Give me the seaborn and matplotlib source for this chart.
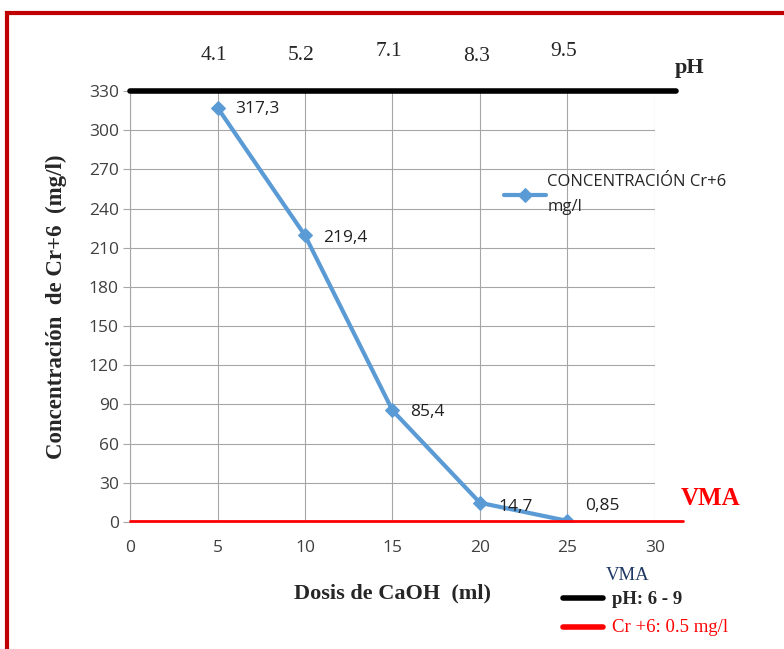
import matplotlib
matplotlib.use("Agg")
import matplotlib.pyplot as plt
import seaborn as sns
import pandas as pd
from matplotlib.patches import Rectangle

# Data
dosis = [5, 10, 15, 20, 25]
concentracion = [317.3, 219.4, 85.4, 14.7, 0.85]
etiquetas = ["317,3", "219,4", "85,4", "14,7", "0,85"]
ph_valores = ["4.1", "5.2", "7.1", "8.3", "9.5"]
y_ticks = list(range(0, 331, 30))
x_ticks = list(range(0, 31, 5))
vma_ph = 330
vma_cr = 0.5

df = pd.DataFrame({"Dosis": dosis, "Conc": concentracion})

sns.set_style("white")
plt.rcParams["font.family"] = ["DejaVu Sans"]

fig = plt.figure(figsize=(7.84, 6.49), dpi=100)
ax = fig.add_axes([130 / 784, 1 - 522 / 649, 525 / 784, 431 / 649])

sans = "Open Sans"
serif = "Liberation Serif"

sns.lineplot(data=df, x="Dosis", y="Conc", ax=ax, color="#5B9BD5", linewidth=3,
             marker="D", markersize=7, markeredgecolor="#5B9BD5",
             label="CONCENTRACIÓN Cr+6\nmg/l", zorder=4)

ax.set_xlim(0, 30)
ax.set_ylim(0, 330)
ax.set_xticks(x_ticks)
ax.set_yticks(y_ticks)
ax.grid(True, color="#A6A6A6", linewidth=0.8)
for s in ["top", "right", "bottom"]:
    ax.spines[s].set_visible(False)
ax.spines["left"].set_color("#A6A6A6")
ax.tick_params(axis="y", length=5, color="#A6A6A6", left=True, pad=3)
ax.tick_params(axis="x", length=0, pad=13)
for lab in ax.get_xticklabels() + ax.get_yticklabels():
    lab.set_fontfamily(sans)
    lab.set_fontsize(12.5)
    lab.set_color("#404040")

# Reference lines (VMA)
ax.plot([0, 31.2], [vma_ph, vma_ph], color="black", linewidth=4, clip_on=False, zorder=5)
ax.plot([0, 31.6], [vma_cr, vma_cr], color="#FF0000", linewidth=2, clip_on=False, zorder=5)

# Point labels
offsets = [(13, -1), (13, -2), (13, -1), (13, -3), (13, 11)]
for x, y, t, off in zip(dosis, concentracion, etiquetas, offsets):
    ax.annotate(t, (x, y), xytext=off, textcoords="offset points",
                fontsize=12.5, fontfamily=sans, color="#202020", va="center", zorder=6)

# pH values along the top
ph_y = [350, 350, 353, 349, 353]
for x, t, yy in zip(dosis, ph_valores, ph_y):
    ax.text(x - 0.2, yy, t, fontsize=15.5, fontfamily=serif, ha="center", va="bottom",
            clip_on=False)
ax.text(32.0, 340, "pH", fontsize=16, fontfamily=serif, fontweight="bold",
        ha="center", va="bottom", clip_on=False)
ax.text(33.2, 9, "VMA", fontsize=18, fontfamily=serif, fontweight="bold",
        color="#FF0000", ha="center", va="bottom", clip_on=False)

ax.set_xlabel("Dosis de CaOH  (ml)", fontsize=16, fontfamily=serif, fontweight="bold",
              labelpad=20)
ax.set_ylabel("Concentración  de Cr+6  (mg/l)", fontsize=16.5, fontfamily=serif,
              fontweight="bold", labelpad=16)

leg = ax.legend(loc="upper left", bbox_to_anchor=(0.700, 0.822), frameon=False,
                handlelength=2.5, handletextpad=0.1, borderaxespad=0,
                prop={"family": sans, "size": 12})
for txt in leg.get_texts():
    txt.set_linespacing(1.7)

# Reference-value key below the axes
fig.text(628 / 784, 1 - 576 / 649, "VMA", fontsize=13.5, fontfamily=serif,
         color="#1F3864", ha="center", va="center")
fig.lines.append(plt.Line2D([563 / 784, 603 / 784], [1 - 598 / 649] * 2,
                            color="black", linewidth=4, transform=fig.transFigure))
fig.text(612 / 784, 1 - 600 / 649, "pH: 6 - 9", fontsize=13.5, fontfamily=serif,
         fontweight="bold", ha="left", va="center")
fig.lines.append(plt.Line2D([563 / 784, 603 / 784], [1 - 627 / 649] * 2,
                            color="#FF0000", linewidth=4, transform=fig.transFigure))
fig.text(612 / 784, 1 - 627 / 649, "Cr +6: 0.5 mg/l", fontsize=13.5, fontfamily=serif,
         color="#FF0000", ha="left", va="center")

# Red frame
fig.patches.append(Rectangle((7 / 784, -0.05), 1.1, 1 - 13 / 649 + 0.05,
                             fill=False, edgecolor="#C00000", linewidth=3,
                             transform=fig.transFigure))

fig.savefig("out.png", dpi=100)
